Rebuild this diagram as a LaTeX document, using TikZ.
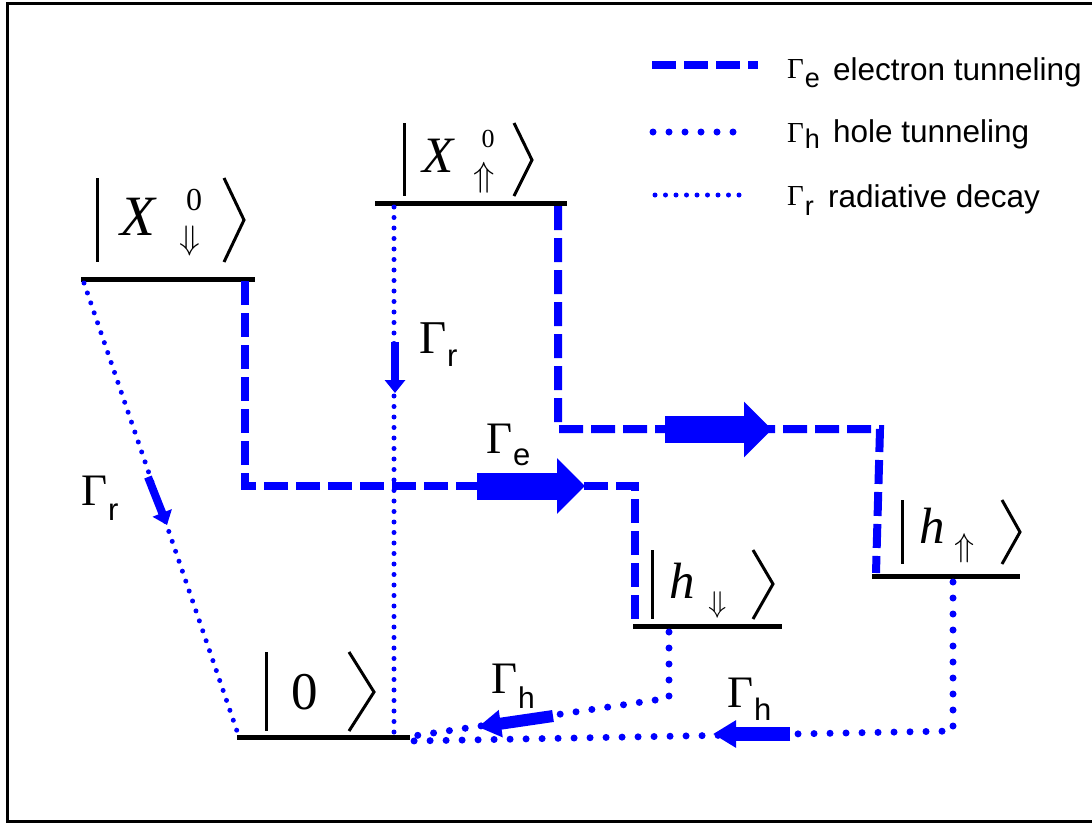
\documentclass[tikz,border=0pt]{standalone}
\usepackage{fontspec}
\newfontfamily\lsserif{Liberation Serif}
\newfontfamily\lssans{Liberation Sans}
\usetikzlibrary{arrows.meta}
\definecolor{tblue}{RGB}{0,0,255}
\newcommand\glab[4]{{\fontsize{#1}{#1}\selectfont\lsserif Γ}\hspace{1pt}\raisebox{-#3pt}{\fontsize{#2}{#2}\selectfont\lssans #4}}
\begin{document}
\begin{tikzpicture}[x=1pt,y=-1pt,
  levelline/.style={line width=5pt, black},
  ketline/.style={line width=3pt, black, line join=miter},
  etun/.style={tblue, line width=8pt, dash pattern=on 24pt off 8pt},
  htun/.style={tblue, line width=7pt, line cap=round, dash pattern=on 0pt off 16pt},
  rdec/.style={tblue, line width=5pt, line cap=round, dash pattern=on 0pt off 10.5pt},
  bigarrow/.style={tblue, line width=27pt, -{Triangle[length=28pt,width=54pt]}},
  harrow/.style={tblue, line width=12pt, -{Triangle[length=23pt,width=26pt]}},
  rarrow/.style={tblue, line width=8pt, -{Triangle[length=13pt,width=20pt]}},
  lbl/.style={inner sep=0pt, outer sep=0pt, anchor=base west},
  kt/.style={inner sep=0pt, outer sep=0pt},
]
\useasboundingbox (0,0) rectangle (1092,823);
% frame
\draw[line width=3pt] (7,3) rectangle (1100,821);

% levels
\coordinate (XdL) at (81,279); \coordinate (XdR) at (255,279);
\coordinate (XuL) at (375,203); \coordinate (XuR) at (567,203);
\coordinate (hdL) at (633,626); \coordinate (hdR) at (782,626);
\coordinate (huL) at (872,576); \coordinate (huR) at (1020,576);
\coordinate (gL) at (237,737);  \coordinate (gR) at (410,737);
\draw[levelline] (XdL) -- (XdR);
\draw[levelline] (XuL) -- (XuR);
\draw[levelline] (hdL) -- (hdR);
\draw[levelline] (huL) -- (huR);
\draw[levelline] (gL) -- (gR);

% kets
\draw[ketline] (97,178) -- (97,262);
\draw[ketline] (224,178) -- (244,220) -- (224,262);
\node[kt, anchor=base] (kXdX) at (138,235) {\fontsize{57}{57}\selectfont\lsserif\itshape X};
\node[kt, anchor=base] (kXd0) at (194,210) {\fontsize{32}{32}\selectfont\lsserif 0};
\node[kt] (kXdA) at (190,241) {\scalebox{3.4}{$\Downarrow$}};

\draw[ketline] (404,123) -- (404,196);
\draw[ketline] (514,123) -- (532,160) -- (514,196);
\node[kt, anchor=base] (kXuX) at (438,172) {\fontsize{51}{51}\selectfont\lsserif\itshape X};
\node[kt, anchor=base] (kXu0) at (488,147) {\fontsize{26}{26}\selectfont\lsserif 0};
\node[kt] (kXuA) at (484,178) {\scalebox{3.5}{$\Uparrow$}};

\draw[ketline] (652,550) -- (652,619);
\draw[ketline] (753,550) -- (773,584) -- (753,619);
\node[kt, anchor=base] (khdh) at (682,598) {\fontsize{51}{51}\selectfont\lsserif\itshape h};
\node[kt] (khdA) at (718,604.5) {\scalebox{3.0}{$\Downarrow$}};

\draw[ketline] (902,500) -- (902,564);
\draw[ketline] (1002,500) -- (1020,532) -- (1002,564);
\node[kt, anchor=base] (khuh) at (932,543) {\fontsize{51}{51}\selectfont\lsserif\itshape h};
\node[kt] (khuA) at (965,548.5) {\scalebox{3.3}{$\Uparrow$}};

\draw[ketline] (266,652) -- (266,731);
\draw[ketline] (349,652) -- (374,692) -- (349,731);
\node[kt, anchor=base] (kg0) at (305,709) {\fontsize{53}{53}\selectfont\lsserif 0};

% connector end points
\coordinate (XdE) at (245,281);
\coordinate (XdD) at (84,283);
\coordinate (XuE) at (558,206);
\coordinate (XuD) at (394,207);
\coordinate (hdE) at (635,624);
\coordinate (hdH) at (669,632);
\coordinate (huE) at (876,573);
\coordinate (huH) at (953,582);
\coordinate (gD1) at (238,734);
\coordinate (gD2) at (394,733);
\coordinate (gH1) at (413,736);
\coordinate (gH2) at (412,741);

% radiative decay
\draw[rdec] (XdD) -- (gD1);
\draw[rdec] (XuD) -- (gD2);
% electron tunneling
\draw[etun] (XdE) -- (245,486) -- (635,486) -- (hdE);
\draw[etun] (XuE) -- (558,429) -- (880,429) -- (huE);
% hole tunneling
\draw[htun] (hdH) -- (669,698) -- (gH1);
\draw[htun] (huH) -- (953,731) -- (gH2);

% arrows
\draw[bigarrow] (477,486) -- (585,486);
\draw[bigarrow] (665,429.5) -- (772,429.5);
\draw[rarrow] (395,342) -- (395,393);
\draw[rarrow] (148,477) -- (167,525);
\draw[harrow] (553,716) -- (478,727);
\draw[harrow, line width=14pt] (790,734) -- (713,734);

% labels
\node[lbl] (lr1) at (419,353) {\glab{47}{31}{13}{r}};
\node[lbl] (lr2) at (81,505) {\glab{45}{31}{15}{r}};
\node[lbl] (le) at (486,453) {\glab{45}{31}{12}{e}};
\node[lbl] (lh1) at (491,693) {\glab{45}{30}{15}{h}};
\node[lbl] (lh2) at (727,707) {\glab{45}{31}{13}{h}};

% legend
\draw[etun] (652,65) -- (758,65);
\draw[htun] (653,132) -- (749,132);
\draw[rdec] (655,195) -- (743,195);
\node[lbl] (leg1) at (787,78) {\glab{29}{27}{9}{e}};
\node[lbl] (leg1t) at (833,80) {\fontsize{31.5}{31.5}\selectfont\lssans electron tunneling};
\node[lbl] (leg2) at (787,142) {\glab{29}{27}{6}{h}};
\node[lbl] (leg2t) at (833,142) {\fontsize{31.5}{31.5}\selectfont\lssans hole tunneling};
\node[lbl] (leg3) at (787,205) {\glab{29}{27}{10}{r}};
\node[lbl] (leg3t) at (828,207) {\fontsize{31.5}{31.5}\selectfont\lssans radiative decay};
\end{tikzpicture}
\end{document}
